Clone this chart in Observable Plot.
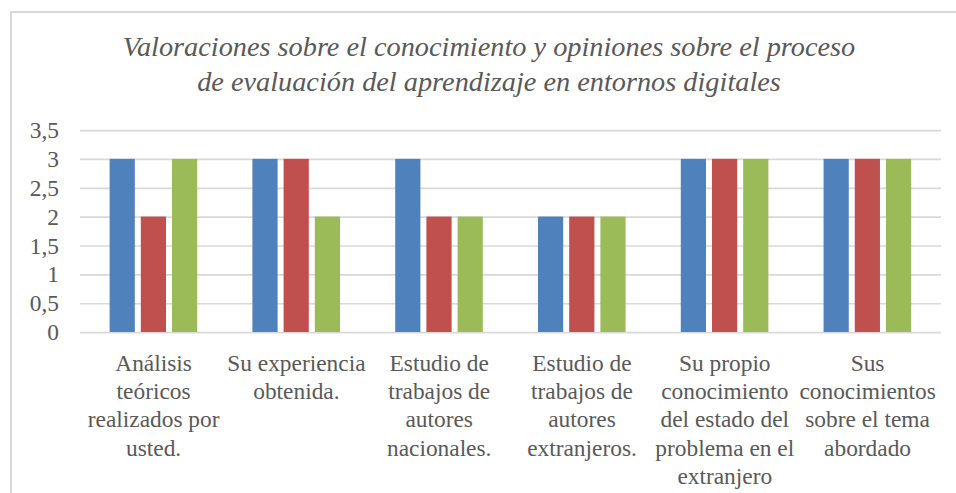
<!DOCTYPE html>
<html><head><meta charset="utf-8">
<script src="https://cdn.jsdelivr.net/npm/d3@7"></script>
<script src="https://cdn.jsdelivr.net/npm/@observablehq/plot@0.6"></script>
<style>
body{margin:0;background:#fff;width:956px;height:493px;overflow:hidden;position:relative;font-family:'Liberation Serif', serif;}
#frame{position:absolute;left:10px;top:11px;width:980px;height:520px;border:2px solid #d9d9d9;box-sizing:border-box;}
#title{position:absolute;left:0;width:978px;top:29px;text-align:center;font-style:italic;font-size:20px;line-height:24.6px;color:#595959;white-space:nowrap;transform:scale(1.415);transform-origin:489px 0;}
.layer{position:absolute;left:0;top:0;transform-origin:0 0;}
</style></head><body>
<div id="frame"></div>
<div id="title">Valoraciones sobre el conocimiento y opiniones sobre el proceso<br>de evaluación del aprendizaje en entornos digitales</div>
<div id="grid" class="layer"></div>
<div id="bars" class="layer"></div>
<script>
const categories = [
  "Análisis\nteóricos\nrealizados por\nusted.",
  "Su experiencia\nobtenida.",
  "Estudio de\ntrabajos de\nautores\nnacionales.",
  "Estudio de\ntrabajos de\nautores\nextranjeros.",
  "Su propio\nconocimiento\ndel estado del\nproblema en el\nextranjero",
  "Sus\nconocimientos\nsobre el tema\nabordado"
];
const series = ["Serie 1", "Serie 2", "Serie 3"];
const serie1 = [3, 3, 3, 2, 3, 3];
const serie2 = [2, 3, 2, 2, 3, 3];
const serie3 = [3, 2, 2, 2, 3, 3];
const yTicks = [0, 0.5, 1, 1.5, 2, 2.5, 3, 3.5];
const colors = ["#4F81BD", "#C0504D", "#9BBB59"];

const values = [serie1, serie2, serie3];
const data = [];
categories.forEach((c, i) => series.forEach((s, j) => data.push({cat: c, series: s, value: values[j][i]})));

const S = 1.2;
const W = 956 / S, H = 493 / S;
const margins = {marginTop: 130 / S, marginBottom: 161 / S, marginLeft: 80 / S, marginRight: 15 / S};
const fmt = d => String(d).replace(".", ",");
const style = "font-family:'Liberation Serif', serif; color:#595959; background:transparent;";
const FS = 19.5;

const gridPlot = Plot.plot({
  width: W, height: H, ...margins, style,
  y: {domain: [0, 3.5]},
  marks: [
    Plot.gridY(yTicks, {stroke: "#d9d9d9", strokeOpacity: 1, strokeWidth: 1.4}),
    Plot.axisY(yTicks, {tickSize: 0, tickPadding: 18, tickFormat: fmt, fontSize: FS, label: null})
  ]
});
document.getElementById("grid").appendChild(gridPlot);

const barPlot = Plot.plot({
  width: W, height: H, ...margins, style,
  fx: {domain: categories, paddingInner: 0.386, paddingOuter: 0.195},
  x: {domain: series, paddingInner: 0.2, paddingOuter: 0, axis: null},
  y: {domain: [0, 3.5], axis: null},
  color: {domain: series, range: colors},
  marks: [
    Plot.barY(data, {fx: "cat", x: "series", y: "value", fill: "series"}),
    Plot.axisFx({anchor: "bottom", tickSize: 0, tickPadding: 15, fontSize: FS, lineHeight: 1.21, label: null})
  ]
});
document.getElementById("bars").appendChild(barPlot);
for (const id of ["grid", "bars"]) document.getElementById(id).style.transform = `scale(${S})`;
</script>
</body></html>
